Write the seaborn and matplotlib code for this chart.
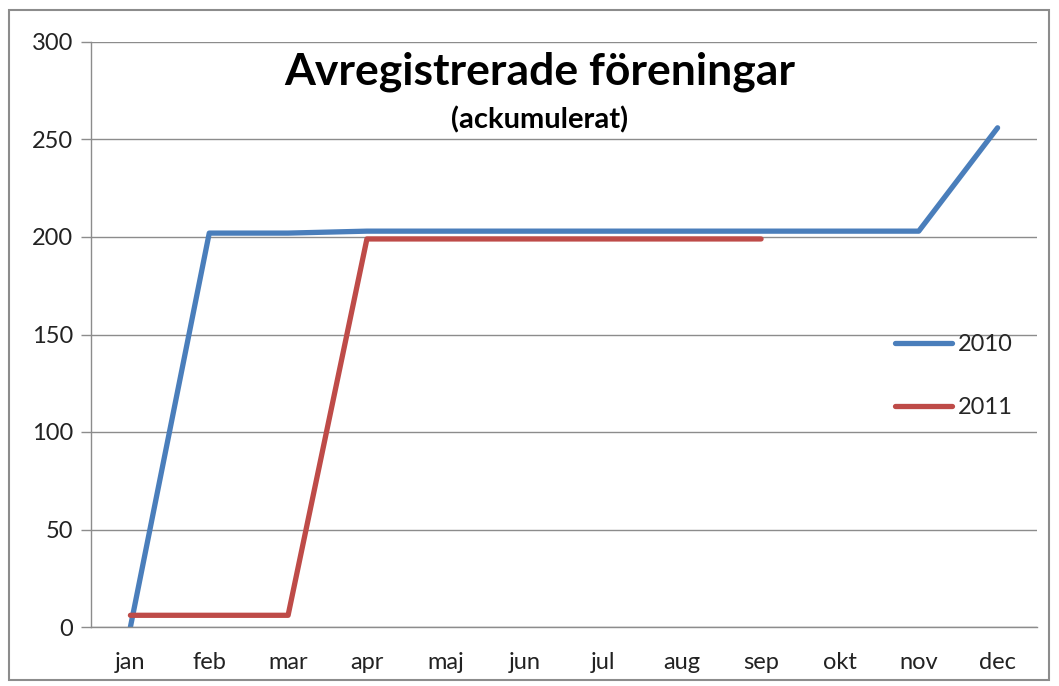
import matplotlib.pyplot as plt
import seaborn as sns
import pandas as pd
import numpy as np
from matplotlib.patches import Rectangle

# data
months = ['jan', 'feb', 'mar', 'apr', 'maj', 'jun', 'jul', 'aug', 'sep', 'okt', 'nov', 'dec']
values_2010 = [0, 202, 202, 203, 203, 203, 203, 203, 203, 203, 203, 256]
values_2011 = [6, 6, 6, 199, 199, 199, 199, 199, 199]

df = pd.concat([
    pd.DataFrame({'Month': months, 'Value': values_2010, 'Year': '2010'}),
    pd.DataFrame({'Month': months[:len(values_2011)], 'Value': values_2011, 'Year': '2011'}),
])
df['pos'] = df['Month'].map({m: i for i, m in enumerate(months)})

sns.set_theme(style="white")
plt.rcParams['font.family'] = ['Lato', 'DejaVu Sans']

fig = plt.figure(figsize=(10.59, 6.86), dpi=100)
ax = fig.add_axes([91/1059, 1-627/686, (1037-91)/1059, (627-42)/686])

sns.lineplot(data=df, x='pos', y='Value', hue='Year', palette=['#4A7EBB', '#BE4B48'],
             linewidth=3.8, ax=ax, legend=True, sort=False)

ax.set_xlim(-0.5, 11.5)
ax.set_ylim(0, 300)
ax.set_yticks(np.arange(0, 301, 50))
ax.set_xticks(np.arange(12))
ax.set_xticklabels(months)
ax.set_xticks(np.arange(-0.5, 12, 1), minor=True)
ax.tick_params(axis='x', which='major', length=0, pad=18, labelsize=17, colors='#222222')
ax.tick_params(axis='x', which='minor', length=7, width=1, color='#8c8c8c', direction='out')
ax.tick_params(axis='y', length=7, width=1, direction='out', labelsize=17,
               pad=6, left=True, colors='#222222')
ax.tick_params(axis='y', color='#8c8c8c')
ax.grid(axis='y', color='#8c8c8c', linewidth=1)
ax.set_axisbelow(True)
for s in ['top', 'right']:
    ax.spines[s].set_visible(False)
for s in ['left', 'bottom']:
    ax.spines[s].set_color('#8c8c8c')
    ax.spines[s].set_linewidth(1)
ax.set(xlabel=None, ylabel=None)

leg = ax.legend(loc='upper left', bbox_to_anchor=(0.84, 0.517), frameon=False, fontsize=17,
                handlelength=2.4, handletextpad=0.25, labelspacing=1.8, borderaxespad=0)

fig.text(540/1059, 1-72/686, 'Avregistrerade föreningar', ha='center', va='center',
         fontsize=32, fontweight='bold', color='black')
fig.text(540/1059, 1-120/686, '(ackumulerat)', ha='center', va='center',
         fontsize=21, fontweight='bold', color='black')

# outer frame
fig.patches.append(Rectangle((9/1059, 6/686), 1040/1059, 670/686, transform=fig.transFigure,
                             fill=False, edgecolor='#8c8c8c', linewidth=1.5))

fig.savefig('out.png', dpi=100)
